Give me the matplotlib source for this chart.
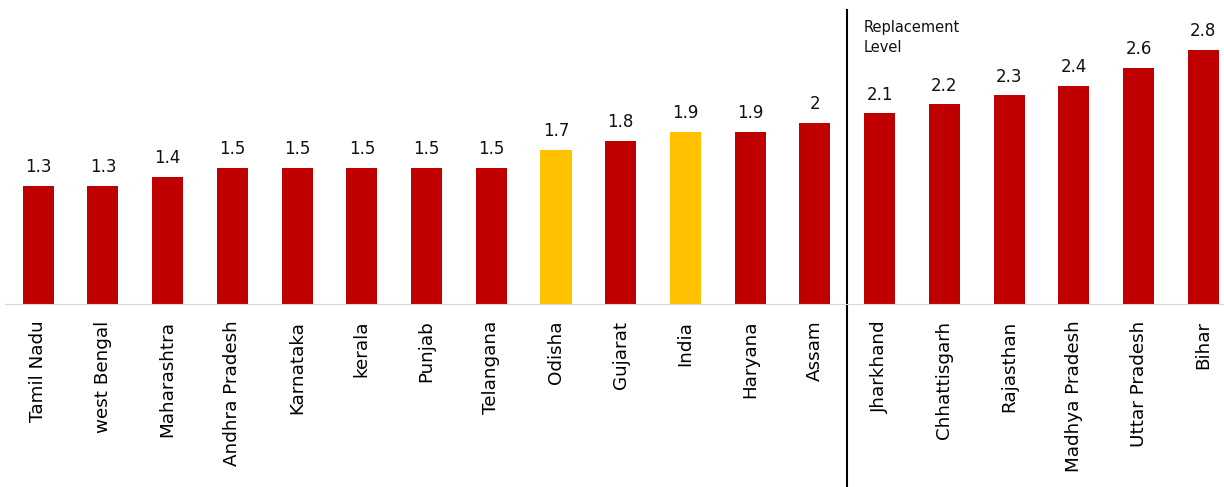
import matplotlib.pyplot as plt

states = ['Tamil Nadu', 'west Bengal', 'Maharashtra', 'Andhra Pradesh', 'Karnataka',
          'kerala', 'Punjab', 'Telangana', 'Odisha', 'Gujarat', 'India', 'Haryana',
          'Assam', 'Jharkhand', 'Chhattisgarh', 'Rajasthan', 'Madhya Pradesh',
          'Uttar Pradesh', 'Bihar']
tfr = [1.3, 1.3, 1.4, 1.5, 1.5, 1.5, 1.5, 1.5, 1.7, 1.8, 1.9, 1.9, 2, 2.1, 2.2, 2.3, 2.4, 2.6, 2.8]
highlight = ['Odisha', 'India']
value_labels = ['1.3', '1.3', '1.4', '1.5', '1.5', '1.5', '1.5', '1.5', '1.7', '1.8', '1.9',
                '1.9', '2', '2.1', '2.2', '2.3', '2.4', '2.6', '2.8']

plt.rcParams['font.family'] = ['DejaVu Sans']

fig = plt.figure(figsize=(12.24, 4.87), dpi=100)
ax = fig.add_axes([0, 1 - 304 / 487, 1, 304 / 487])

colors = ['#FFC000' if s in highlight else '#C00000' for s in states]
x = list(range(len(states)))
bars = ax.bar(x, tfr, width=0.48, color=colors)

for b, lab in zip(bars, value_labels):
    ax.annotate(lab, (b.get_x() + b.get_width() / 2, b.get_height()),
                xytext=(0, 7), textcoords='offset points',
                ha='center', va='bottom', fontsize=12, color='#111111')

ax.set_xlim(-0.59, 18.32)
ax.set_ylim(0, 3.35)
ax.set_xticks(x)
ax.set_xticklabels(states, rotation=90, fontsize=13.2, color='#000000')
ax.tick_params(axis='x', length=0, pad=12)
ax.set_yticks([])
for side in ['top', 'right', 'left']:
    ax.spines[side].set_visible(False)
ax.spines['bottom'].set_color('#d9d9d9')
ax.spines['bottom'].set_bounds(-0.51, 18.32)

# replacement level divider
ax.plot([12.5, 12.5], [0 - 183 / 90.8, 3.24], color='black', lw=1.5, clip_on=False)
ax.text(12.75, 3.13, 'Replacement\nLevel', fontsize=10.5, va='top', ha='left',
        color='#111111', linespacing=1.45)

plt.savefig('out.png', dpi=100)
